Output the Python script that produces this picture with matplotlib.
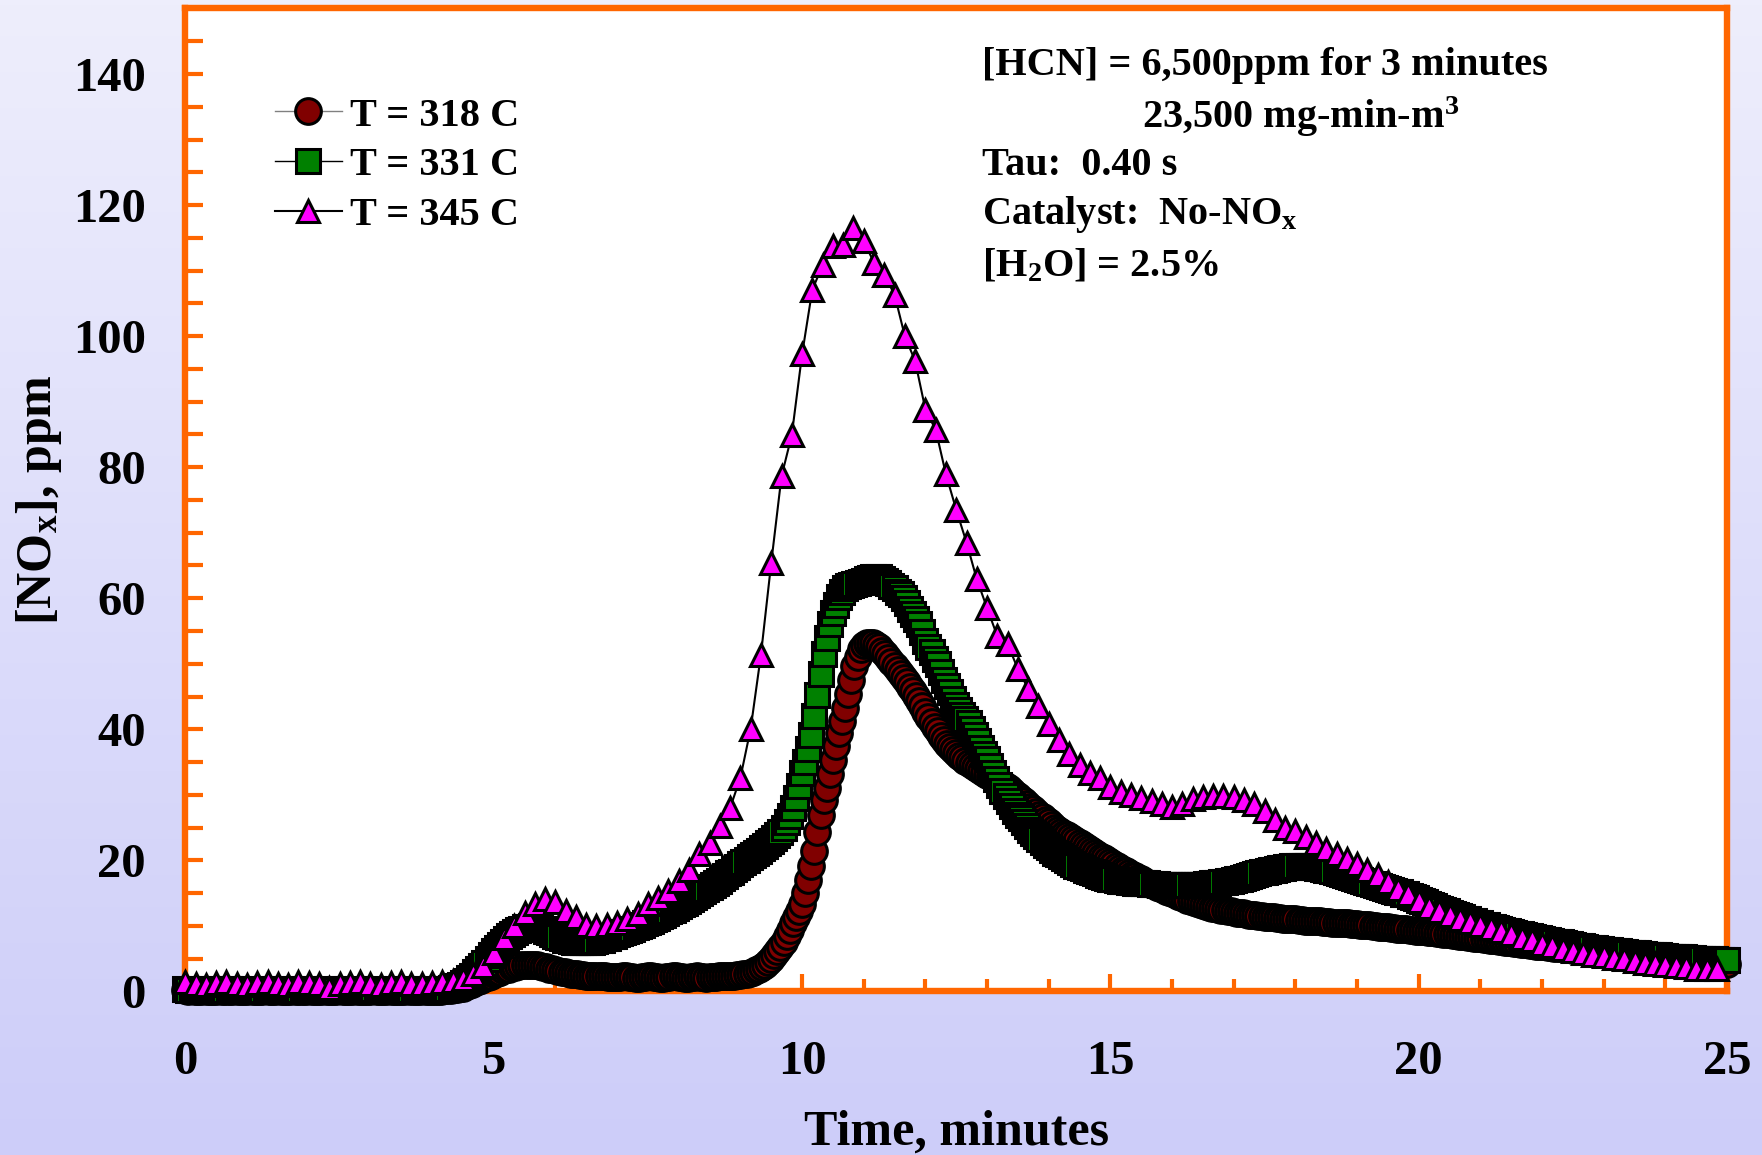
#!/usr/bin/env python3
"""NOx release during HCN exposure at three catalyst temperatures."""

import numpy as np
import matplotlib
matplotlib.use('Agg')
import matplotlib.pyplot as plt
from matplotlib.colors import LinearSegmentedColormap
from matplotlib.ticker import MultipleLocator

# ═══ Data ═══

LABELS = ['T = 318 C', 'T = 331 C', 'T = 345 C']

# 318 C and 331 C logged every 0.05 min, 345 C every 10 s
DT_FAST = 0.05
DT_345 = 1.0 / 6.0

NOX_318 = [
    0.2, 0.1, 0.2, 0.1, 0.0, 0.1, 0.2, 0.1, 0.1, 0.0, 0.1, 0.2, 0.1, 0.1, 0.0, 0.1, 0.2, 0.1, 0.0, 0.1,
    0.1, 0.2, 0.1, 0.0, 0.1, 0.1, 0.2, 0.1, 0.0, 0.1, 0.2, 0.1, 0.1, 0.0, 0.1, 0.2, 0.1, 0.1, 0.0, 0.1,
    0.2, 0.1, 0.0, 0.1, 0.1, 0.2, 0.1, 0.0, 0.1, 0.1, 0.2, 0.1, 0.1, 0.0, 0.1, 0.2, 0.1, 0.0, 0.1, 0.1,
    0.1, 0.2, 0.1, 0.1, 0.0, 0.1, 0.2, 0.1, 0.1, 0.0, 0.1, 0.1, 0.2, 0.1, 0.0, 0.1, 0.1, 0.2, 0.1, 0.1,
    0.1, 0.1, 0.1, 0.1, 0.2, 0.2, 0.2, 0.3, 0.4, 0.5, 0.6, 0.8, 1.0, 1.2, 1.4, 1.6, 1.8, 2.0, 2.2, 2.4,
    2.6, 2.8, 3.0, 3.2, 3.4, 3.5, 3.7, 3.8, 3.9, 4.0, 4.0, 4.1, 4.1, 4.0, 4.0, 3.9, 3.8, 3.7, 3.5, 3.4,
    3.2, 3.1, 3.0, 2.9, 2.8, 2.7, 2.6, 2.6, 2.5, 2.5, 2.4, 2.4, 2.4, 2.3, 2.3, 2.3, 2.3, 2.2, 2.2, 2.2,
    2.2, 2.2, 2.3, 2.3, 2.2, 2.2, 2.1, 2.1, 2.2, 2.2, 2.3, 2.3, 2.2, 2.2, 2.1, 2.1, 2.2, 2.2, 2.3, 2.3,
    2.2, 2.2, 2.1, 2.1, 2.2, 2.2, 2.3, 2.2, 2.2, 2.1, 2.2, 2.2, 2.2, 2.3, 2.3, 2.3, 2.4, 2.4, 2.4, 2.5,
    2.5, 2.6, 2.7, 2.8, 3.0, 3.2, 3.4, 3.7, 4.1, 4.5, 5.0, 5.5, 6.1, 6.8, 7.6, 8.5, 9.4, 10.4, 11.3, 12.3,
    13.4, 15.0, 17.0, 19.1, 21.5, 24.3, 27.0, 29.2, 31.0, 33.2, 35.3, 37.4, 39.4, 41.2, 43.2, 45.4, 47.6, 49.6, 51.1, 52.2,
    52.8, 53.1, 53.2, 53.1, 52.9, 52.5, 52.0, 51.5, 50.9, 50.3, 49.6, 49.0, 48.4, 47.8, 47.2, 46.5, 45.8, 45.1, 44.3, 43.5,
    42.7, 41.9, 41.1, 40.4, 39.7, 39.0, 38.4, 37.8, 37.3, 36.8, 36.4, 36.0, 35.6, 35.2, 34.9, 34.6, 34.3, 34.0, 33.7, 33.4,
    33.1, 32.8, 32.5, 32.2, 31.9, 31.6, 31.3, 31.0, 30.6, 30.2, 29.8, 29.4, 29.0, 28.6, 28.2, 27.8, 27.4, 27.0, 26.6, 26.2,
    25.8, 25.4, 25.0, 24.7, 24.4, 24.1, 23.8, 23.5, 23.2, 22.9, 22.6, 22.3, 22.0, 21.7, 21.4, 21.1, 20.8, 20.5, 20.3, 20.0,
    19.8, 19.5, 19.2, 18.9, 18.6, 18.4, 18.1, 17.8, 17.6, 17.3, 17.1, 16.9, 16.6, 16.4, 16.2, 16.0, 15.8, 15.6, 15.4, 15.2,
    15.0, 14.8, 14.6, 14.4, 14.2, 14.0, 13.8, 13.6, 13.5, 13.3, 13.2, 13.1, 12.9, 12.8, 12.7, 12.6, 12.5, 12.4, 12.3, 12.2,
    12.1, 12.0, 11.9, 11.9, 11.8, 11.7, 11.7, 11.6, 11.5, 11.5, 11.4, 11.4, 11.3, 11.3, 11.2, 11.2, 11.1, 11.1, 11.0, 11.0,
    11.0, 10.9, 10.9, 10.8, 10.8, 10.8, 10.7, 10.7, 10.7, 10.6, 10.6, 10.6, 10.5, 10.5, 10.5, 10.4, 10.4, 10.4, 10.3, 10.3,
    10.3, 10.2, 10.2, 10.1, 10.1, 10.0, 10.0, 9.9, 9.9, 9.8, 9.8, 9.7, 9.7, 9.6, 9.6, 9.5, 9.5, 9.4, 9.4, 9.3,
    9.3, 9.2, 9.2, 9.1, 9.0, 9.0, 8.9, 8.9, 8.8, 8.7, 8.7, 8.6, 8.6, 8.5, 8.4, 8.4, 8.3, 8.3, 8.2, 8.1,
    8.1, 8.0, 8.0, 7.9, 7.8, 7.8, 7.7, 7.7, 7.6, 7.5, 7.5, 7.4, 7.4, 7.3, 7.2, 7.2, 7.1, 7.1, 7.0, 6.9,
    6.9, 6.9, 6.8, 6.8, 6.7, 6.7, 6.6, 6.6, 6.5, 6.5, 6.4, 6.4, 6.3, 6.3, 6.2, 6.2, 6.1, 6.1, 6.0, 6.0,
    5.9, 5.9, 5.8, 5.8, 5.7, 5.7, 5.6, 5.6, 5.5, 5.5, 5.4, 5.4, 5.3, 5.3, 5.2, 5.2, 5.1, 5.1, 5.0, 5.0,
    5.0, 4.9, 4.9, 4.8, 4.8, 4.7, 4.7, 4.7, 4.6, 4.6, 4.5, 4.5, 4.5, 4.4, 4.4, 4.4, 4.3, 4.3, 4.3, 4.2,
    4.2,
]

NOX_331 = [
    0.3, 0.2, 0.2, 0.3, 0.2, 0.1, 0.2, 0.3, 0.2, 0.2, 0.3, 0.2, 0.1, 0.2, 0.3, 0.2, 0.2, 0.3, 0.2, 0.2,
    0.2, 0.3, 0.2, 0.1, 0.2, 0.2, 0.3, 0.2, 0.2, 0.1, 0.2, 0.3, 0.2, 0.2, 0.1, 0.2, 0.3, 0.2, 0.2, 0.2,
    0.3, 0.2, 0.1, 0.2, 0.2, 0.3, 0.2, 0.2, 0.1, 0.2, 0.3, 0.2, 0.2, 0.2, 0.1, 0.2, 0.3, 0.2, 0.2, 0.2,
    0.2, 0.3, 0.2, 0.2, 0.1, 0.2, 0.2, 0.3, 0.2, 0.2, 0.1, 0.2, 0.3, 0.2, 0.2, 0.2, 0.1, 0.2, 0.3, 0.2,
    0.2, 0.2, 0.2, 0.3, 0.3, 0.4, 0.5, 0.6, 0.8, 1.0, 1.3, 1.6, 2.0, 2.4, 2.9, 3.4, 3.9, 4.4, 5.0, 5.5,
    6.1, 6.6, 7.1, 7.6, 8.0, 8.4, 8.8, 9.1, 9.4, 9.6, 9.8, 9.9, 10.0, 10.0, 9.9, 9.7, 9.5, 9.3, 9.0, 8.8,
    8.5, 8.3, 8.1, 7.9, 7.8, 7.7, 7.6, 7.5, 7.5, 7.5, 7.5, 7.5, 7.6, 7.7, 7.8, 7.9, 8.1, 8.2, 8.4, 8.5,
    8.7, 8.9, 9.0, 9.2, 9.4, 9.6, 9.8, 10.0, 10.2, 10.4, 10.6, 10.8, 11.0, 11.2, 11.5, 11.7, 12.0, 12.2, 12.5, 12.7,
    13.0, 13.3, 13.5, 13.8, 14.1, 14.4, 14.7, 15.0, 15.3, 15.6, 15.9, 16.3, 16.6, 16.9, 17.3, 17.6, 18.0, 18.3, 18.7, 19.0,
    19.4, 19.8, 20.1, 20.5, 20.8, 21.2, 21.5, 21.9, 22.2, 22.6, 23.0, 23.4, 23.8, 24.4, 25.0, 25.9, 26.8, 28.0, 29.5, 31.4,
    33.3, 35.0, 37.0, 39.2, 42.0, 45.3, 48.5, 51.5, 54.0, 56.0, 57.8, 59.0, 60.2, 61.0, 61.5, 61.8, 62.0, 62.2, 62.3, 62.5,
    62.7, 62.9, 63.1, 63.2, 63.3, 63.2, 63.0, 62.7, 62.3, 61.9, 61.5, 61.0, 60.6, 60.1, 59.3, 58.3, 57.6, 56.8, 56.0, 54.8,
    53.5, 52.6, 51.8, 50.8, 49.9, 48.8, 47.6, 46.6, 45.7, 44.7, 43.7, 42.9, 42.2, 41.6, 40.9, 40.0, 39.2, 38.2, 37.2, 36.3,
    35.4, 34.4, 33.4, 32.4, 31.5, 30.6, 29.8, 29.0, 28.3, 27.6, 27.0, 26.4, 25.8, 25.2, 24.7, 24.2, 23.7, 23.2, 22.8, 22.4,
    22.0, 21.6, 21.2, 20.9, 20.6, 20.3, 20.0, 19.7, 19.4, 19.2, 19.0, 18.8, 18.6, 18.4, 18.2, 18.0, 17.8, 17.6, 17.5, 17.3,
    17.2, 17.1, 17.0, 16.9, 16.8, 16.8, 16.7, 16.7, 16.6, 16.6, 16.5, 16.5, 16.5, 16.4, 16.4, 16.4, 16.3, 16.3, 16.3, 16.3,
    16.3, 16.3, 16.2, 16.2, 16.2, 16.2, 16.2, 16.3, 16.3, 16.3, 16.3, 16.4, 16.4, 16.5, 16.5, 16.6, 16.7, 16.7, 16.8, 16.9,
    17.0, 17.1, 17.2, 17.3, 17.5, 17.6, 17.7, 17.9, 18.0, 18.2, 18.3, 18.4, 18.5, 18.6, 18.7, 18.8, 18.9, 19.0, 19.0, 19.1,
    19.1, 19.1, 19.1, 19.1, 19.1, 19.0, 19.0, 18.9, 18.8, 18.7, 18.6, 18.5, 18.4, 18.2, 18.1, 17.9, 17.8, 17.6, 17.5, 17.3,
    17.2, 17.0, 16.9, 16.7, 16.6, 16.4, 16.3, 16.1, 16.0, 15.8, 15.7, 15.5, 15.4, 15.2, 15.1, 14.9, 14.8, 14.6, 14.4, 14.3,
    14.0, 13.8, 13.6, 13.4, 13.2, 13.0, 12.8, 12.6, 12.4, 12.2, 12.0, 11.8, 11.6, 11.5, 11.3, 11.1, 11.0, 10.8, 10.7, 10.5,
    10.4, 10.2, 10.1, 9.9, 9.8, 9.7, 9.5, 9.4, 9.3, 9.2, 9.0, 8.9, 8.8, 8.7, 8.6, 8.5, 8.4, 8.3, 8.2, 8.1,
    8.0, 7.9, 7.8, 7.7, 7.6, 7.5, 7.5, 7.4, 7.3, 7.2, 7.1, 7.0, 7.0, 6.9, 6.8, 6.7, 6.7, 6.6, 6.5, 6.5,
    6.4, 6.3, 6.3, 6.2, 6.2, 6.1, 6.0, 6.0, 5.9, 5.9, 5.8, 5.8, 5.7, 5.7, 5.6, 5.6, 5.5, 5.5, 5.5, 5.4,
    5.4, 5.3, 5.3, 5.3, 5.2, 5.2, 5.2, 5.1, 5.1, 5.1, 5.0, 5.0, 5.0, 4.9, 4.9, 4.9, 4.9, 4.8, 4.8, 4.8,
    4.8,
]

NOX_345 = [
    1.5, 1.2, 1.0, 1.3, 1.4, 1.2,
    1.0, 1.3, 1.5, 1.2, 1.0, 1.4,
    1.3, 1.1, 0.6, 1.2, 1.3, 1.4,
    1.2, 1.0, 1.3, 1.4, 1.2, 1.1,
    1.3, 1.4, 1.6, 1.9, 2.6, 3.9,
    5.9, 8.2, 10.0, 12.0, 13.3, 14.1,
    13.6, 12.3, 11.3, 10.2, 10.0, 10.2,
    10.5, 11.0, 11.8, 13.3, 14.3, 15.3,
    16.9, 18.6, 20.9, 22.6, 25.2, 28.0,
    32.6, 40.1, 51.4, 65.4, 78.6, 84.9,
    97.2, 107.1, 110.8, 113.7, 113.9, 116.5,
    114.5, 111.2, 109.4, 106.3, 100.0, 96.2,
    88.8, 85.7, 78.9, 73.5, 68.5, 62.9,
    58.5, 54.2, 53.0, 49.2, 46.2, 43.5,
    40.8, 38.4, 36.3, 34.5, 33.3, 32.5,
    31.2, 30.4, 30.0, 29.5, 29.0, 28.6,
    28.1, 28.6, 29.4, 29.6, 29.8, 29.8,
    29.7, 29.2, 28.6, 27.6, 26.2, 25.0,
    24.5, 23.6, 22.6, 21.7, 21.0, 20.2,
    19.4, 18.6, 17.7, 16.7, 15.7, 14.8,
    13.8, 12.9, 12.2, 11.6, 11.1, 10.6,
    10.1, 9.7, 9.2, 8.7, 8.2, 7.8,
    7.3, 6.9, 6.5, 6.2, 5.9, 5.6,
    5.4, 5.1, 4.9, 4.6, 4.4, 4.2,
    4.0, 3.9, 3.7, 3.5, 3.4, 3.4,
]

ANNOTATIONS = [
    '[HCN] = 6,500ppm for 3 minutes',
    '23,500 mg-min-m$^{3}$',
    'Tau:  0.40 s',
    'Catalyst:  No-NO$_{\\mathrm{x}}$',
    '[H$_{2}$O] = 2.5%',
]

# ═══ Style ═══

ORANGE = '#FF6600'
BG_TOP = '#EEEEFC'
BG_BOTTOM = '#CDCDF9'

plt.rcParams['font.family'] = ['Liberation Serif', 'DejaVu Serif']
plt.rcParams['font.weight'] = 'bold'
plt.rcParams['axes.labelweight'] = 'bold'
plt.rcParams['mathtext.fontset'] = 'custom'
plt.rcParams['mathtext.rm'] = 'Liberation Serif:bold'
plt.rcParams['mathtext.it'] = 'Liberation Serif:bold'
plt.rcParams['mathtext.bf'] = 'Liberation Serif:bold'
plt.rcParams['mathtext.default'] = 'rm'


def main():
    t_318 = np.arange(len(NOX_318)) * DT_FAST
    t_331 = np.arange(len(NOX_331)) * DT_FAST
    t_345 = np.arange(len(NOX_345)) * DT_345

    fig = plt.figure(figsize=(17.62, 11.55), dpi=100)

    # lavender gradient behind everything
    bg = fig.add_axes([0, 0, 1, 1], zorder=-10)
    grad = np.linspace(0, 1, 256).reshape(-1, 1)
    cmap = LinearSegmentedColormap.from_list('bg', [BG_TOP, BG_BOTTOM])
    bg.imshow(grad, aspect='auto', cmap=cmap, extent=[0, 1, 0, 1], origin='upper')
    bg.axis('off')

    ax = fig.add_axes([0.1052, 0.1416, 0.8750, 0.8511])
    ax.set_facecolor('white')

    mk = dict(mec='black', mew=2.2, clip_on=False)
    l318, = ax.plot(t_318, NOX_318, color='#808080', lw=1.0, marker='o', ms=18.5,
                    mfc='#800000', zorder=3, **mk)
    l331, = ax.plot(t_331, NOX_331, color='black', lw=1.0, marker='s', ms=17.5,
                    mfc='#008000', zorder=4, **mk)
    l345, = ax.plot(t_345, NOX_345, color='black', lw=1.5, marker='^', ms=16.5,
                    mfc='#FF00FF', zorder=5, **mk)

    ax.set_xlim(0, 25)
    ax.set_ylim(0, 150)
    ax.xaxis.set_major_locator(MultipleLocator(5))
    ax.xaxis.set_minor_locator(MultipleLocator(1))
    ax.yaxis.set_major_locator(MultipleLocator(20))
    ax.yaxis.set_minor_locator(MultipleLocator(5))

    for side in ['left', 'right', 'top', 'bottom']:
        ax.spines[side].set_color(ORANGE)
        ax.spines[side].set_linewidth(4.6)

    ax.tick_params(which='both', direction='in', color=ORANGE, width=3,
                   top=False, right=False, labelsize=35)
    ax.tick_params(axis='x', which='major', length=12, pad=35)
    ax.tick_params(axis='x', which='minor', length=8.5)
    ax.tick_params(axis='y', which='both', length=13, pad=28.5)

    ax.set_xlabel('Time, minutes', fontsize=36)
    ax.xaxis.set_label_coords(0.5, -0.120)
    ax.set_ylabel('[NO$_{\\mathrm{x}}$], ppm', fontsize=36)
    ax.yaxis.set_label_coords(-0.079, 0.5)

    ax.legend([l318, l331, l345], LABELS, loc='upper left',
              bbox_to_anchor=(0.1561, 0.9157), bbox_transform=fig.transFigure,
              frameon=False, fontsize=29, handlelength=1.66, handletextpad=0.2,
              labelspacing=0.31, borderpad=0, borderaxespad=0)

    # experiment conditions, top right
    x_left, x_indent = 0.5576, 0.6481
    baselines = [0.9351, 0.8892, 0.8485, 0.8061, 0.7610]
    for i, (txt, yb) in enumerate(zip(ANNOTATIONS, baselines)):
        fig.text(x_indent if i == 1 else x_left, yb, txt, fontsize=29,
                 ha='left', va='baseline')

    fig.savefig('out.png', dpi=100)
    plt.close(fig)


if __name__ == '__main__':
    main()
